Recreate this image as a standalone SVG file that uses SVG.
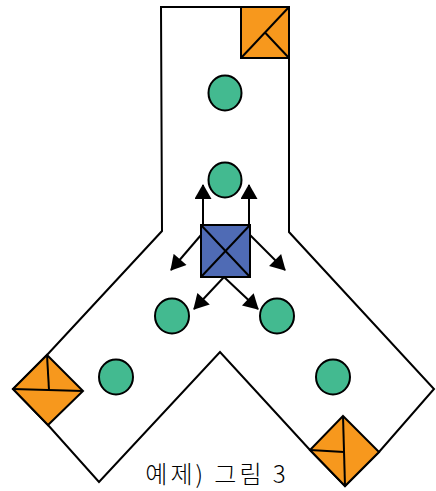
<svg xmlns="http://www.w3.org/2000/svg" width="436" height="491" viewBox="0 0 436 491">
<style>
.ol{fill:none;stroke:#000;stroke-width:2;stroke-linejoin:miter}
.or{fill:#F7981D;stroke:#000;stroke-width:2}
.bl{fill:#4F6BB5;stroke:#000;stroke-width:2}
.gr{fill:#43BA90;stroke:#000;stroke-width:2}
.ln{stroke:#000;stroke-width:2;fill:none}
.ar{stroke:#000;stroke-width:2;fill:none;marker-end:url(#ah)}
.tx{font-family:"Noto Sans CJK KR","Liberation Sans",sans-serif;font-size:24px;font-weight:300;letter-spacing:3px;fill:#000}
</style>
<defs>
<marker id="ah" markerUnits="userSpaceOnUse" markerWidth="16" markerHeight="17" viewBox="0 0 15 17" refX="14" refY="8.5" orient="auto">
<path d="M0,0 L15,8.5 L0,17 Z" fill="#000"/>
</marker>
</defs>
<g id="outline">
<polygon class="ol" points="161,7 289,7 289,232 434,389 379,452 345,486 310,450 220,352 99,482 48,425 13,389 47,355 162,231"/>
</g>
<g id="door-top">
<rect class="or" x="241" y="7" width="48" height="51"/>
<line class="ln" x1="241" y1="58" x2="289" y2="7"/>
<line class="ln" x1="265" y1="32.5" x2="289" y2="58"/>
</g>
<g id="door-left">
<polygon class="or" points="47,355 83,391 48,425 13,389"/>
<line class="ln" x1="13" y1="389" x2="83" y2="391"/>
<line class="ln" x1="47" y1="355" x2="49" y2="390"/>
</g>
<g id="door-right">
<polygon class="or" points="343,416 379,452 345,486 310,450"/>
<line class="ln" x1="343" y1="416" x2="345" y2="486"/>
<line class="ln" x1="310" y1="450" x2="344" y2="452"/>
</g>
<g id="circle-1"><ellipse class="gr" cx="225" cy="93" rx="16.5" ry="17.5"/></g>
<g id="circle-2"><ellipse class="gr" cx="225" cy="180" rx="16.5" ry="17.5"/></g>
<g id="circle-3"><ellipse class="gr" cx="172" cy="316" rx="17" ry="17.5"/></g>
<g id="circle-4"><ellipse class="gr" cx="277" cy="316" rx="17" ry="17.5"/></g>
<g id="circle-5"><ellipse class="gr" cx="116" cy="377" rx="17" ry="17.5"/></g>
<g id="circle-6"><ellipse class="gr" cx="333" cy="377" rx="17" ry="17.5"/></g>
<g id="connectors">
<line class="ar" x1="203" y1="225" x2="203" y2="185"/>
<line class="ar" x1="249" y1="225" x2="249" y2="185"/>
<line class="ar" x1="201" y1="235" x2="171" y2="270"/>
<line class="ar" x1="250" y1="235" x2="285" y2="270"/>
<line class="ar" x1="224" y1="277" x2="194" y2="309"/>
<line class="ar" x1="224" y1="277" x2="258" y2="309"/>
</g>
<g id="source">
<rect class="bl" x="201" y="225" width="49" height="52"/>
<line class="ln" x1="201" y1="225" x2="250" y2="277"/>
<line class="ln" x1="250" y1="225" x2="201" y2="277"/>
</g>
<text class="tx" x="217" y="483" text-anchor="middle">예제) 그림 3</text>
</svg>
